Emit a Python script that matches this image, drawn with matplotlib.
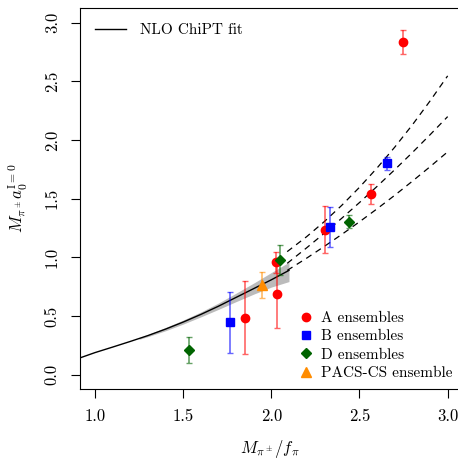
import matplotlib
matplotlib.use('Agg')
import matplotlib.pyplot as plt
from matplotlib.lines import Line2D
import numpy as np

plt.rcParams['font.family'] = ['cmr10', 'DejaVu Serif']
plt.rcParams['mathtext.fontset'] = 'cm'
plt.rcParams['axes.unicode_minus'] = False
plt.rcParams['axes.formatter.use_mathtext'] = True

# data
a_x = [1.852, 2.028, 2.032, 2.303, 2.5625, 2.748]
a_y = [0.488, 0.96, 0.687, 1.235, 1.54, 2.834]
a_err = [0.31, 0.09, 0.29, 0.20, 0.085, 0.10]

b_x = [1.767, 2.33, 2.657]
b_y = [0.449, 1.258, 1.803]
b_err = [0.26, 0.17, 0.055]

d_x = [1.535, 2.051, 2.44]
d_y = [0.213, 0.98, 1.306]
d_err = [0.11, 0.125, 0.052]

pacs_x = [1.947]
pacs_y = [0.767]
pacs_err = [0.11]

# NLO ChiPT fit curve and its error band
fit_x = [0.915, 1.0, 1.1, 1.2, 1.3, 1.4, 1.5, 1.6, 1.7, 1.8, 1.9, 2.0, 2.1]
fit_y = [0.145, 0.19, 0.237, 0.285, 0.335, 0.39, 0.45, 0.515, 0.585, 0.66, 0.735, 0.81, 0.89]
band_x = [1.25, 1.3, 1.4, 1.5, 1.6, 1.7, 1.8, 1.9, 2.0, 2.1]
band_lo = [0.303, 0.326, 0.376, 0.433, 0.494, 0.558, 0.624, 0.688, 0.748, 0.795]
band_hi = [0.317, 0.344, 0.404, 0.467, 0.536, 0.612, 0.696, 0.782, 0.872, 0.96]

# dashed extrapolations
ext_x = [2.09, 2.2, 2.3, 2.4, 2.5, 2.6, 2.7, 2.8, 2.9, 3.0]
up_y = [1.05, 1.177, 1.305, 1.445, 1.598, 1.763, 1.94, 2.13, 2.333, 2.547]
mid_y = [0.95, 1.082, 1.206, 1.335, 1.468, 1.606, 1.748, 1.894, 2.045, 2.2]
lo_y = [0.89, 0.994, 1.094, 1.197, 1.304, 1.415, 1.53, 1.65, 1.773, 1.90]

fig = plt.figure(figsize=(4.58, 4.61), dpi=100)
ax = fig.add_axes([80/458, 72/461, 380/458, 381/461])

ax.fill_between(band_x, band_lo, band_hi, color='#b4b4b4', alpha=0.9, lw=0, zorder=1)
ax.plot(fit_x, fit_y, color='black', lw=1.0, zorder=2)
for yy in [up_y, mid_y, lo_y]:
    ax.plot(ext_x, yy, color='black', lw=0.9, ls=(0, (5, 4)), zorder=2)

def pts(x, y, e, col, mk, ms):
    ax.errorbar(x, y, yerr=e, fmt='none', ecolor=col, alpha=0.6, elinewidth=1.2,
                capsize=2, capthick=1.0, zorder=3)
    ax.plot(x, y, ls='none', marker=mk, color=col, ms=ms, zorder=4)

pts(a_x, a_y, a_err, '#ff0000', 'o', 6)
pts(b_x, b_y, b_err, '#0000ff', 's', 5.5)
pts(d_x, d_y, d_err, '#006400', 'D', 5)
pts(pacs_x, pacs_y, pacs_err, '#ff8c00', '^', 7)

ax.set_xlim(0.915, 3.07)
ax.set_ylim(-0.12, 3.125)
ax.set_xticks([1.0, 1.5, 2.0, 2.5, 3.0])
ax.set_yticks([0.0, 0.5, 1.0, 1.5, 2.0, 2.5, 3.0])
ax.set_xticklabels(['1.0', '1.5', '2.0', '2.5', '3.0'])
ax.set_yticklabels(['0.0', '0.5', '1.0', '1.5', '2.0', '2.5', '3.0'], rotation=90, va='center')
ax.tick_params(length=6.5, width=0.8, labelsize=12, pad=8)
ax.spines['right'].set_visible(False)
for s in ['left', 'bottom', 'top']:
    ax.spines[s].set_linewidth(0.8)

ax.set_xlabel(r'$M_{\pi^\pm}/f_\pi$', fontsize=12)
ax.set_ylabel(r'$M_{\pi^\pm}a_0^{\mathrm{I=0}}$', fontsize=12)
ax.xaxis.set_label_coords(190/380, -(438-389)/381)
ax.yaxis.set_label_coords(-(80-30)/380, 0.5)

leg1 = ax.legend([Line2D([], [], color='black', lw=1.0)], ['NLO ChiPT fit'],
                 loc='upper left', frameon=False, fontsize=11, handlelength=2.0,
                 handletextpad=0.9, borderaxespad=0.6)
ax.add_artist(leg1)

handles = [Line2D([], [], ls='none', marker='o', color='#ff0000', ms=6),
           Line2D([], [], ls='none', marker='s', color='#0000ff', ms=5.5),
           Line2D([], [], ls='none', marker='D', color='#006400', ms=5),
           Line2D([], [], ls='none', marker='^', color='#ff8c00', ms=7)]
labels = ['A ensembles', 'B ensembles', 'D ensembles', 'PACS-CS ensemble']
ax.legend(handles, labels, loc='lower right', frameon=False, fontsize=11,
          handlelength=1.0, handletextpad=0.5, labelspacing=0.3,
          bbox_to_anchor=(459/458, (461-386)/461), bbox_transform=fig.transFigure,
          borderaxespad=0)

fig.savefig('out.png', dpi=100)
